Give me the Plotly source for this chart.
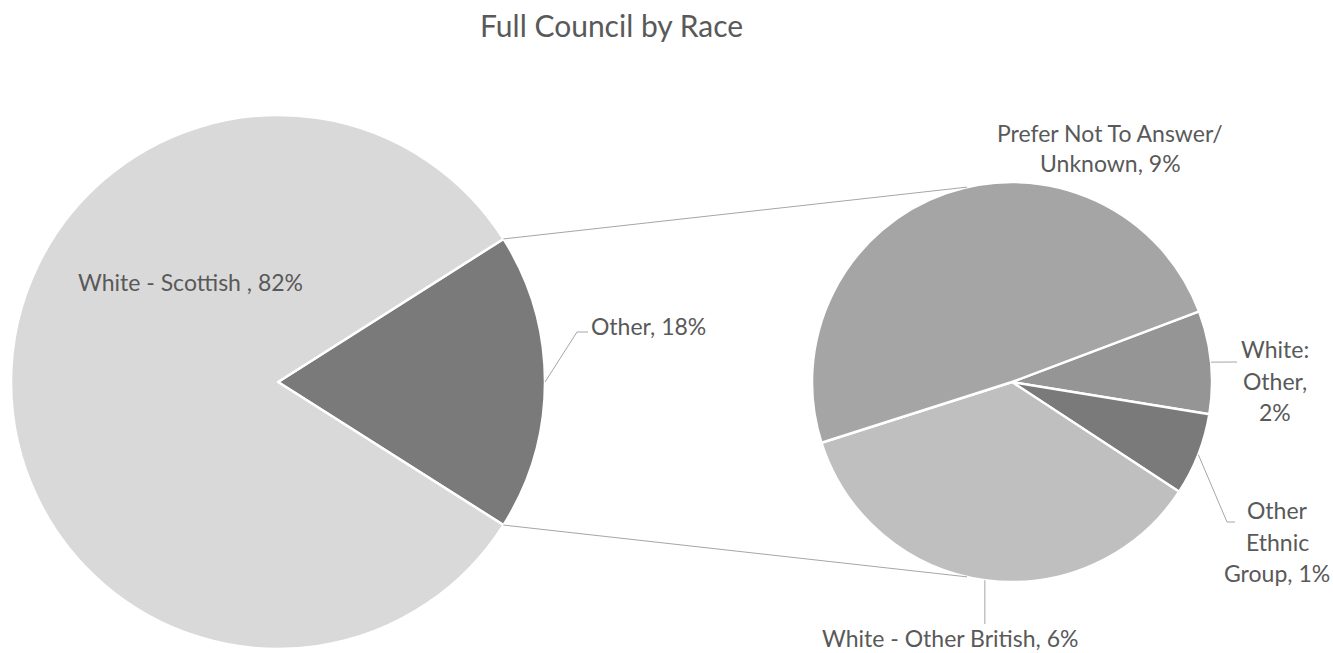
import math
import plotly.graph_objects as go

W, H = 1333, 653

# ---- data ----
title_text = "Full Council by Race"
main_labels = ["Other", "White - Scottish "]
main_values = [18, 82]
main_colors = ["#7a7a7a", "#d9d9d9"]

sub_labels = ["White: Other", "Other Ethnic Group", "White - Other British",
              "Prefer Not To Answer/ Unknown"]
sub_values = [1.5, 1.2, 6.45, 8.85]
sub_colors = ["#959595", "#7a7a7a", "#bfbfbf", "#a5a5a5"]
sub_pct_text = ["2%", "1%", "6%", "9%"]
main_pct_text = ["18%", "82%"]

FONT = "Lato"
TXT = "#595959"
LINE = "#a6a6a6"
LBL = 23

# ---- geometry (pixels) ----
main_c, main_r = (278, 382), 267
sub_c, sub_r = (1012, 382), 200
main_rot = 90 - 360 * main_values[0] / sum(main_values) / 2
sub_rot = 69.3


def dom(c, r):
    return dict(x=[(c[0] - r) / W, (c[0] + r) / W],
                y=[1 - (c[1] + r) / H, 1 - (c[1] - r) / H])


def angles(values, rot):
    tot = sum(values)
    a = 90 - rot
    out = []
    for v in values:
        b = a - 360 * v / tot
        out.append((a, b))
        a = b
    return out


def pt(c, r, ang):
    return (c[0] + r * math.cos(math.radians(ang)), c[1] - r * math.sin(math.radians(ang)))


def px(x, y):
    return x / W, 1 - y / H


fig = go.Figure()
fig.add_trace(go.Pie(labels=main_labels, values=main_values, sort=False,
                     direction="clockwise", rotation=main_rot,
                     marker=dict(colors=main_colors, line=dict(color="white", width=2.5)),
                     textinfo="none", hoverinfo="label+percent", domain=dom(main_c, main_r),
                     showlegend=False))
fig.add_trace(go.Pie(labels=sub_labels, values=sub_values, sort=False,
                     direction="clockwise", rotation=sub_rot,
                     marker=dict(colors=sub_colors, line=dict(color="white", width=2.5)),
                     textinfo="none", hoverinfo="label+value", domain=dom(sub_c, sub_r),
                     showlegend=False))

shapes = []
# connector lines between pies
m_ang = angles(main_values, main_rot)
p1 = pt(main_c, main_r, m_ang[0][0])
p2 = pt(main_c, main_r, m_ang[0][1])
q1 = pt(sub_c, sub_r, 103)
q2 = pt(sub_c, sub_r, -103)
for a, b in [(p1, q1), (p2, q2)]:
    x0, y0 = px(*a)
    x1, y1 = px(*b)
    shapes.append(dict(type="line", xref="paper", yref="paper", x0=x0, y0=y0, x1=x1, y1=y1,
                       line=dict(color=LINE, width=1)))


def leader(points):
    path = ""
    for i, (x, y) in enumerate(points):
        X, Y = px(x, y)
        path += ("M" if i == 0 else "L") + f"{X},{Y} "
    shapes.append(dict(type="path", xref="paper", yref="paper", path=path,
                       line=dict(color=LINE, width=1)))


s_ang = angles(sub_values, sub_rot)
mid = lambda a: (a[0] + a[1]) / 2
# Other 18%
s = pt(main_c, main_r, mid(m_ang[0]))
leader([s, (577, 332), (588, 332)])
# White: Other
s = pt(sub_c, sub_r, mid(s_ang[0]))
leader([s, (1237, 362)])
# Other Ethnic Group
s = pt(sub_c, sub_r, mid(s_ang[1]))
leader([s, (1227, 522), (1235, 522)])
# White - Other British
s = pt(sub_c, sub_r, mid(s_ang[2]))
leader([s, (s[0], 624)])

fig.update_layout(shapes=shapes)

ann = []


def label(text, x, y, anchor="center", size=LBL):
    X, Y = px(x, y)
    ann.append(dict(text=text, x=X, y=Y, xref="paper", yref="paper", showarrow=False,
                    xanchor=anchor, yanchor="middle", borderpad=0,
                    font=dict(family=FONT, size=size, color=TXT)))


label(f"{main_labels[1]}, {main_pct_text[1]}", 190, 282)
label(f"{main_labels[0]}, {main_pct_text[0]}", 590, 326, anchor="left")
label("Prefer Not To Answer/", 1110, 133)
label(f"Unknown, {sub_pct_text[3]}", 1110, 163)
label("White:", 1275, 349)
label("Other,", 1275, 381)
label(sub_pct_text[0], 1275, 412)
label("Other", 1277, 510)
label("Ethnic", 1277, 542)
label(f"Group, {sub_pct_text[1]}", 1277, 573)
label(f"{sub_labels[2]}, {sub_pct_text[2]}", 950, 638)
label(title_text, 611, 25, size=30)

fig.update_layout(annotations=ann, width=W, height=H,
                  margin=dict(l=0, r=0, t=0, b=0),
                  paper_bgcolor="white", plot_bgcolor="white")

fig.write_html("out.html", config={"displayModeBar": False},
               post_script="document.body.style.margin='0';document.body.style.overflow='hidden';")
